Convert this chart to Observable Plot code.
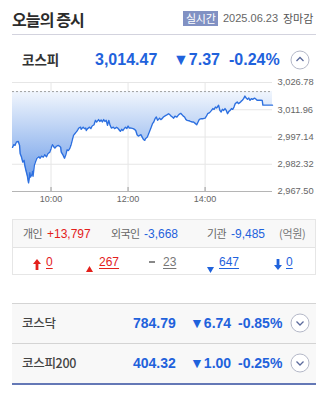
<!DOCTYPE html>
<html><head><meta charset="utf-8">
<script src="https://cdn.jsdelivr.net/npm/d3@7"></script>
<script src="https://cdn.jsdelivr.net/npm/@observablehq/plot@0.6"></script>
<style>
body{margin:0;width:321px;height:394px;background:#fff;position:relative;overflow:hidden;font-family:"Liberation Sans",Arial,sans-serif;}
.a{position:absolute;white-space:nowrap;line-height:1;}
.kr{font-family:"Noto Sans CJK KR","Noto Sans",sans-serif;}
.u{text-decoration:underline;text-underline-offset:2px;}
#chart{position:absolute;left:0;top:74px;}
</style></head><body>
<div id="chart"></div>
<script>
// ---- data ----
const title = "오늘의 증시";
const badgeLabel = "실시간";
const dateLabel = "2025.06.23";
const statusLabel = "장마감";
const tradeDay = "2025-06-23";
const sessionStart = "09:00";
const sessionEnd = "15:45";
const prevClose = 3021.84;
const times = ["09:00","09:02","09:04","09:06","09:09","09:11","09:12","09:14","09:16","09:18","09:19","09:21","09:23","09:25","09:26","09:27","09:28","09:30","09:31","09:32","09:34","09:36","09:38","09:41","09:43","09:45","09:48","09:50","09:53","09:55","09:58",
"10:00","10:02","10:04","10:06","10:08","10:11","10:13","10:15","10:16","10:19","10:21","10:23","10:25","10:27","10:29","10:31","10:33","10:35","10:37","10:39","10:41","10:42","10:43","10:46","10:47","10:50","10:52","10:54","10:55","10:57",
"11:00","11:02","11:04","11:07","11:09","11:11","11:14","11:16","11:18","11:20","11:22","11:24","11:26","11:28","11:29","11:30","11:32","11:34","11:37","11:39","11:42","11:44","11:46","11:48","11:50","11:52","11:54","11:56","11:58",
"12:00","12:02","12:05","12:08","12:10","12:12","12:14","12:16","12:18","12:20","12:22","12:24","12:26","12:27","12:30","12:32","12:34","12:36","12:38","12:40","12:42","12:44","12:46","12:49","12:51","12:53","12:55","12:57","12:59",
"13:01","13:03","13:05","13:07","13:09","13:11","13:13","13:16","13:18","13:20","13:22","13:24","13:26","13:28","13:30","13:32","13:35","13:37","13:40","13:42","13:45","13:47","13:49","13:51","13:54","13:57",
"14:00","14:02","14:04","14:07","14:10","14:12","14:14","14:16","14:18","14:21","14:23","14:25","14:27","14:29","14:31","14:33","14:35","14:37","14:39","14:41","14:43","14:45","14:47","14:50","14:52","14:54","14:56","14:58",
"15:00","15:02","15:04","15:06","15:08","15:10","15:12","15:14","15:17","15:19","15:21","15:24","15:28","15:29","15:30","15:45"];
const values = [2991.5,2993.0,2992.6,2994.4,2994.7,2992.6,2988.0,2986.2,2983.5,2984.4,2982.0,2978.9,2976.2,2972.2,2974.4,2977.7,2975.3,2976.6,2978.4,2975.8,2981.7,2983.8,2985.6,2986.4,2985.6,2986.7,2986.2,2987.5,2986.4,2988.0,2988.9,
2990.8,2993.0,2992.0,2991.1,2992.0,2992.6,2992.2,2991.6,2988.9,2987.1,2985.6,2987.5,2990.2,2989.8,2990.8,2992.6,2995.3,2998.0,2998.9,2999.8,3000.7,3001.3,3002.0,3002.5,3001.3,3002.5,3001.7,3002.0,3000.7,3001.7,
3002.5,3001.7,3003.1,3003.8,3006.2,3005.3,3006.6,3005.6,3006.4,3005.3,3006.6,3005.6,3006.2,3003.5,3004.9,3006.2,3003.5,3002.0,3002.5,3001.7,3002.4,3002.0,3001.1,3000.2,3001.3,3000.7,3001.7,3002.4,3001.7,
3003.1,3002.0,3002.0,3001.7,3001.3,3000.7,2998.4,2997.6,2998.0,2998.4,2997.1,2995.8,2995.3,2996.2,2997.1,2998.9,3000.7,3002.5,3004.4,3005.3,3007.1,3008.0,3006.2,3007.4,3006.6,3007.1,3008.0,3008.5,3008.9,
3009.3,3009.8,3009.3,3008.5,3008.0,3007.4,3008.5,3008.0,3008.9,3009.6,3010.0,3009.3,3008.5,3008.0,3006.7,3006.2,3006.0,3005.6,3005.3,3005.3,3004.4,3003.8,3005.3,3006.7,3007.1,3007.1,
3007.4,3008.5,3009.8,3010.4,3011.6,3012.6,3012.2,3013.4,3012.9,3014.4,3011.6,3010.7,3012.2,3011.6,3012.6,3011.6,3009.8,3011.1,3011.6,3012.6,3012.2,3013.4,3015.3,3016.2,3015.3,3015.8,3016.5,3017.1,
3018.0,3019.4,3018.3,3017.6,3018.3,3017.1,3018.0,3017.6,3018.3,3017.8,3017.1,3017.1,3017.1,3017.0,3014.47,3014.47];
const yTicks = [2967.50, 2982.32, 2997.14, 3011.96, 3026.78];
const xTicks = ["10:00", "12:00", "14:00"];
const indexNames = ["코스피", "코스닥", "코스피200"];
const indexValues = [3014.47, 784.79, 404.32];
const indexChanges = [-7.37, -6.74, -1.00];
const indexPcts = [-0.24, -0.85, -0.25];
const investorNames = ["개인", "외국인", "기관"];
const investorNet = [13797, -3668, -9485];
const unitLabel = "(억원)";
const breadthCounts = [0, 267, 23, 647, 0]; // 상한, 상승, 보합, 하락, 하한

// ---- helpers ----
const RED = "#e3201b", BLUE = "#1f62dc", GRAY = "#666";
const fmt2 = d3.format(",.2f");
const signed = v => (v < 0 ? "-" : "+") + d3.format(",")(Math.abs(v));
const body = document.body;
function txt(s, x, cy, size, opts = {}) {
  const el = document.createElement("div");
  el.className = "a" + (opts.kr ? " kr" : "") + (opts.u ? " u" : "");
  el.textContent = s;
  el.style.left = x + "px";
  el.style.top = (cy - size / 2) + "px";
  el.style.fontSize = size + "px";
  el.style.color = opts.color || "#333";
  if (opts.bold) el.style.fontWeight = opts.bold === true ? "700" : opts.bold;
  if (opts.ls) el.style.letterSpacing = opts.ls;
  body.appendChild(el);
  return el;
}
function box(x, y, w, h, css) {
  const el = document.createElement("div");
  el.style.cssText = `position:absolute;left:${x}px;top:${y}px;width:${w}px;height:${h}px;${css}`;
  body.appendChild(el);
  return el;
}
function svgIcon(x, y, w, h, inner) {
  const el = document.createElement("div");
  el.style.cssText = `position:absolute;left:${x}px;top:${y}px;width:${w}px;height:${h}px;`;
  el.innerHTML = `<svg width="${w}" height="${h}" viewBox="0 0 ${w} ${h}">${inner}</svg>`;
  body.appendChild(el);
}
function circleBtn(cx, cy, up) {
  const p = up ? "6.5,11 10,7.5 13.5,11" : "6.5,8.5 10,12 13.5,8.5";
  svgIcon(cx - 10, cy - 10, 20, 20,
    `<circle cx="10" cy="10" r="9" fill="#fff" stroke="#b4b8c8" stroke-width="1"/>
     <polyline points="${p}" fill="none" stroke="#5b6a9c" stroke-width="1.3"/>`);
}

// ---- header ----
txt(title, 12, 19, 16, {kr: true, bold: true, ls: "-0.9px", color: "#2b2b2b"});
box(183, 11, 35, 15, "background:#8191c3;");
txt(badgeLabel, 186, 18.5, 11, {kr: true, color: "#fff", ls: "-0.3px"});
txt(dateLabel, 223, 18.5, 11, {color: "#666"});
txt(statusLabel, 283, 18.5, 11, {kr: true, color: "#555"});
box(12, 34, 304, 1, "background:#d3d3de;");

// ---- KOSPI row ----
txt(indexNames[0], 22, 60, 13.5, {kr: true, bold: true, color: "#333"});
txt(fmt2(indexValues[0]), 95, 60, 16, {bold: true, color: BLUE});
txt("▼" + Math.abs(indexChanges[0]).toFixed(2), 173, 60, 16, {bold: true, color: BLUE});
txt(indexPcts[0].toFixed(2) + "%", 229, 60, 16, {bold: true, color: BLUE});
circleBtn(300, 60, true);

// ---- chart ----
const parse = d3.timeParse("%Y-%m-%d %H:%M");
const data = times.map((t, i) => ({time: parse(`${tradeDay} ${t}`), value: values[i]}));
const xTickDates = xTicks.map(t => parse(`${tradeDay} ${t}`));
const chart = Plot.plot({
  width: 321, height: 132,
  marginTop: 8, marginBottom: 15, marginLeft: 12, marginRight: 49,
  style: {fontFamily: "'Liberation Sans', Arial, sans-serif", fontSize: "9.3px", color: "#666", background: "transparent", overflow: "visible"},
  x: {type: "time", label: null, domain: [parse(`${tradeDay} ${sessionStart}`), parse(`${tradeDay} ${sessionEnd}`)]},
  y: {label: null, domain: [yTicks[0], yTicks[yTicks.length - 1]]},
  marks: [
    Plot.gridX(xTickDates, {stroke: "#e6e6e6", strokeOpacity: 1}),
    Plot.gridY(yTicks, {stroke: "#e6e6e6", strokeOpacity: 1}),
    Plot.areaY(data, {x: "time", y1: prevClose, y2: "value", fill: "url(#kospiFill)"}),
    Plot.ruleY([prevClose], {stroke: "#a0a0a0", strokeDasharray: "2,2"}),
    Plot.ruleY([yTicks[0]], {stroke: "#b5b5b5"}),
    Plot.tickX(xTickDates, {x: d => d, insetTop: 105, stroke: "#999"}),
    Plot.lineY(data, {x: "time", y: "value", stroke: "#2d70e0", strokeWidth: 1.4}),
    Plot.axisY(yTicks, {anchor: "right", label: null, tickSize: 0, tickPadding: 5, tickFormat: fmt2, fill: "#666"}),
    Plot.axisX(xTickDates, {anchor: "bottom", label: null, tickSize: 0, tickPadding: 4, tickFormat: d3.timeFormat("%H:%M"), fontSize: 9, fill: "#666"})
  ]
});
const defs = d3.select(chart).insert("defs", ":first-child");
const grad = defs.append("linearGradient").attr("id", "kospiFill").attr("x1", 0).attr("y1", 0).attr("x2", 0).attr("y2", 1);
grad.append("stop").attr("offset", "0%").attr("stop-color", "#f1f6fd");
grad.append("stop").attr("offset", "100%").attr("stop-color", "#6c9ce8");
document.getElementById("chart").appendChild(chart);

// ---- investors box ----
box(12, 219, 302, 54, "border:1px solid #e6e6e6;background:#fff;");
box(13, 220, 302, 27, "background:#f8f8f8;border-bottom:1px solid #e3e3e3;");
const invX = [[23, 47], [111, 144], [207, 231]];
investorNames.forEach((n, i) => {
  txt(n, invX[i][0], 233.5, 11, {kr: true, color: GRAY, ls: "-0.6px"});
  txt(signed(investorNet[i]), invX[i][1], 233.5, 12, {color: investorNet[i] > 0 ? RED : BLUE});
});
txt(unitLabel, 279, 233.5, 11, {kr: true, color: "#777", ls: "-0.3px"});

// breadth row
svgIcon(33, 256, 8, 11, `<polygon points="4,0 8,5 5.4,5 5.4,11 2.6,11 2.6,5 0,5" fill="${RED}"/>`);
txt(String(breadthCounts[0]), 46, 262, 12, {u: true, color: RED});
svgIcon(86, 258, 7, 6, `<polygon points="3.5,0 7,6 0,6" fill="${RED}"/>`);
txt(String(breadthCounts[1]), 99, 262, 12, {u: true, color: RED});
box(149, 261, 6, 2, "background:#888;");
txt(String(breadthCounts[2]), 163, 262, 12, {u: true, color: "#777"});
svgIcon(207, 259, 7, 6, `<polygon points="0,0 7,0 3.5,6" fill="${BLUE}"/>`);
txt(String(breadthCounts[3]), 219, 262, 12, {u: true, color: BLUE});
svgIcon(274, 256, 8, 11, `<polygon points="4,11 8,6 5.4,6 5.4,0 2.6,0 2.6,6 0,6" fill="${BLUE}"/>`);
txt(String(breadthCounts[4]), 286, 262, 12, {u: true, color: BLUE});

// ---- other indices ----
box(12, 303, 304, 81, "background:#f8f8f8;");
box(12, 303, 304, 1, "background:#d4d4d4;");
box(12, 343, 304, 1, "background:#d4d4d4;");
box(12, 383, 304, 2, "background:#6478b6;");
[1, 2].forEach((k, j) => {
  const cy = j === 0 ? 323 : 363;
  txt(indexNames[k], 22, cy, 12.5, {kr: true, bold: "500", color: "#444", ls: "-0.3px"});
  txt(indexValues[k].toFixed(2), 133, cy, 14, {bold: true, color: BLUE});
  txt("▼" + Math.abs(indexChanges[k]).toFixed(2), 190, cy, 14, {bold: true, color: BLUE});
  txt(indexPcts[k].toFixed(2) + "%", 238, cy, 14, {bold: true, color: BLUE});
  circleBtn(300, cy, false);
});
</script>
</body></html>
